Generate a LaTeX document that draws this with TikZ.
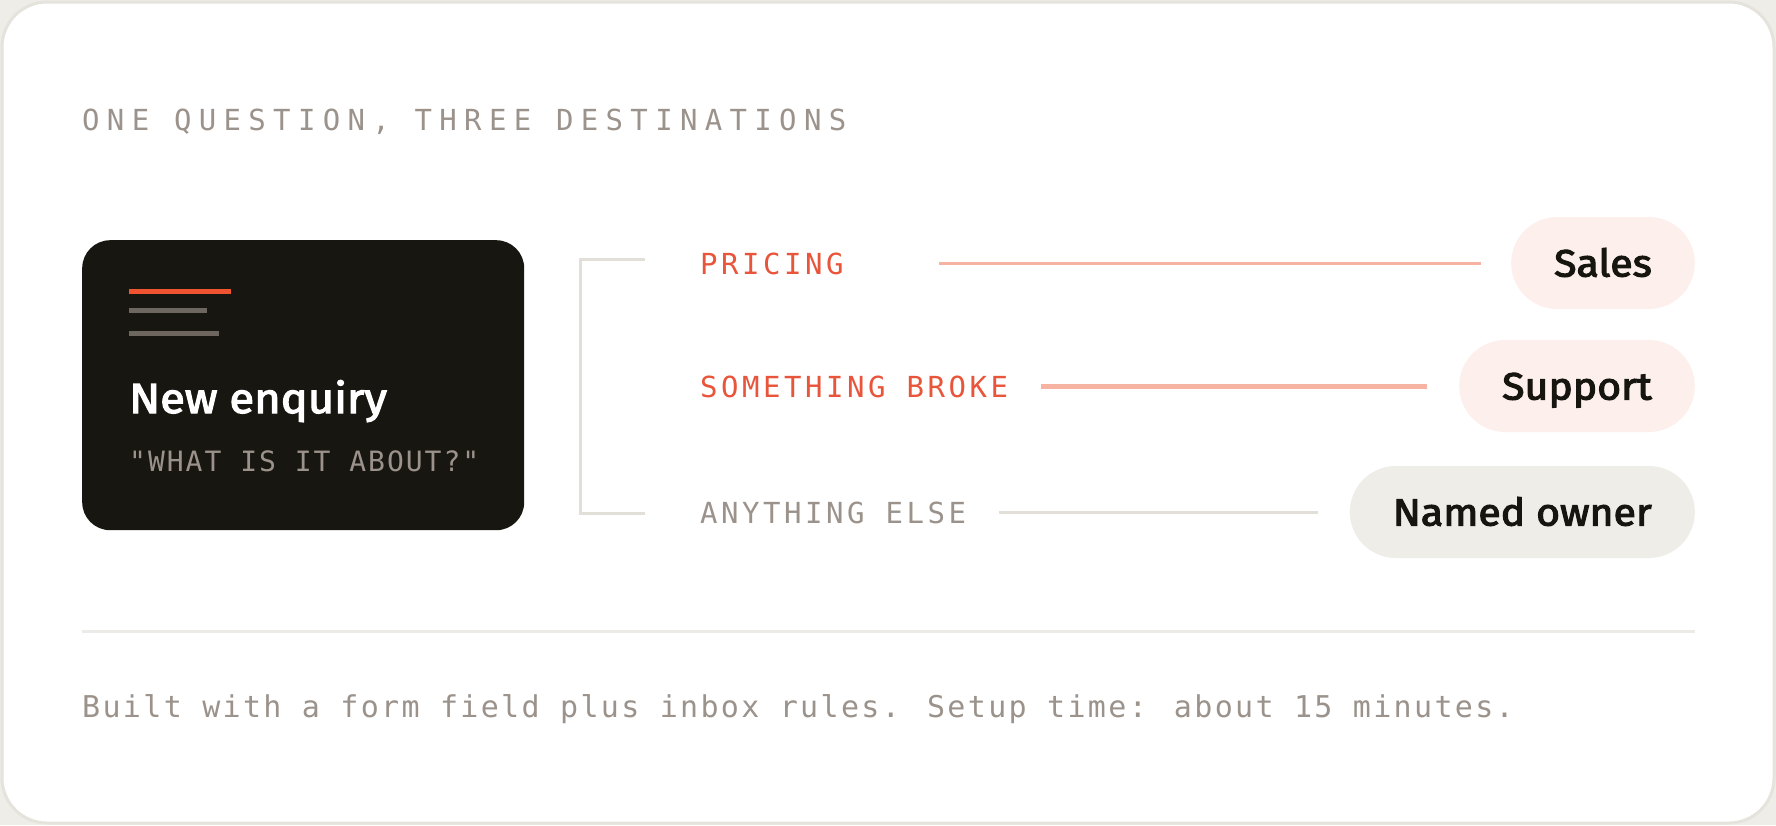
\documentclass[tikz,border=0pt]{standalone}
\usepackage{fontspec}
\newfontfamily\headf[FakeStretch=1.08, FakeBold=3]{Fira Sans}
\newfontfamily\titlef[LetterSpace=25.3]{DejaVu Sans Mono}
\newfontfamily\labelf[LetterSpace=12.2]{DejaVu Sans Mono}
\newfontfamily\quotef[LetterSpace=7.1]{DejaVu Sans Mono}
\newfontfamily\footf[LetterSpace=7.8]{DejaVu Sans Mono}
\definecolor{pagebg}{HTML}{EFEDE8}
\definecolor{cardline}{HTML}{E6E3DC}
\definecolor{dark}{HTML}{181610}
\definecolor{orangebar}{HTML}{F0532F}
\definecolor{orangetxt}{HTML}{E8553A}
\definecolor{salmon}{HTML}{F7B3A2}
\definecolor{pinkfill}{HTML}{FDF0EC}
\definecolor{grayfill}{HTML}{EFEDE8}
\definecolor{graytxt}{HTML}{9B938B}
\definecolor{rulegray}{HTML}{E2DFD9}
\definecolor{sepgray}{HTML}{EDEBE7}
\definecolor{ink}{HTML}{171510}
\definecolor{bargray}{HTML}{6E675F}
\begin{document}
\begin{tikzpicture}[x=1pt,y=-1pt,
  lbl/.style={anchor=base west, inner sep=0pt},
  monolabel/.style={lbl, font=\labelf\fontsize{29}{34}\selectfont},
  pill/.style={anchor=east, rounded corners=46pt, minimum height=92pt,
    inner xsep=43pt, inner ysep=0pt, text height=27pt, text depth=0pt,
    font=\headf\fontsize{38}{44}\selectfont, text=ink},
  route/.style={line width=3pt},
  bracketline/.style={draw=rulegray, line width=3pt}]
\useasboundingbox (0,0) rectangle (1776,825);
\fill[pagebg] (0,0) rectangle (1776,825);
\draw[cardline, line width=3pt, fill=white, rounded corners=45pt] (2,2) rectangle (1774,823);
% title
\node[lbl, font=\titlef\fontsize{29}{34}\selectfont, text=graytxt] (title) at (82,130) {ONE QUESTION, THREE DESTINATIONS};
% dark card
\node[fill=dark, rounded corners=28pt, minimum width=442pt, minimum height=290pt,
  anchor=north west, inner sep=0pt] (card) at (82,240) {};
\draw[orangebar, line width=5pt] (129,291) -- (231,291);
\draw[bargray, line width=5pt] (129,310) -- (207,310);
\draw[bargray, line width=5pt] (129,333) -- (219,333);
\node[lbl, font=\headf\fontsize{42}{48}\selectfont, text=white] (enq) at (129,413) {New enquiry};
\node[lbl, font=\quotef\fontsize{28}{34}\selectfont, text=graytxt] (ask) at (129,471) {"WHAT IS IT ABOUT?"};
% bracket
\coordinate (bt) at (645,259);
\coordinate (bb) at (645,513);
\draw[bracketline] (bt) -- (580,259) -- (580,513) -- (bb);
% labels
\node[monolabel, text=orangetxt] (pricing) at (700,274) {PRICING};
\node[monolabel, text=orangetxt] (broke) at (700,397) {SOMETHING BROKE};
\node[monolabel, text=graytxt] (else) at (700,523) {ANYTHING ELSE};
% pills
\node[pill, fill=pinkfill] (sales) at (1695,263) {Sales};
\node[pill, fill=pinkfill] (support) at (1695,386) {Support};
\node[pill, fill=grayfill] (owner) at (1695,512) {Named owner};
% connectors
\coordinate (pstart) at (939,263);
\coordinate (bstart) at (1041,386);
\coordinate (estart) at (999,512);
\draw[route, salmon] (pstart) -- ([xshift=-30pt]sales.west);
\draw[route, salmon, line width=5pt] (bstart) -- ([xshift=-32pt]support.west);
\draw[route, rulegray] (estart) -- ([xshift=-32pt]owner.west);
% separator
\draw[sepgray, line width=3pt] (82,631) -- (1695,631);
% footer
\node[lbl, font=\footf\fontsize{30}{36}\selectfont, text=graytxt] (foot) at (82,717) {Built with a form field plus inbox rules. Setup time: about 15 minutes.};
\end{tikzpicture}
\end{document}
